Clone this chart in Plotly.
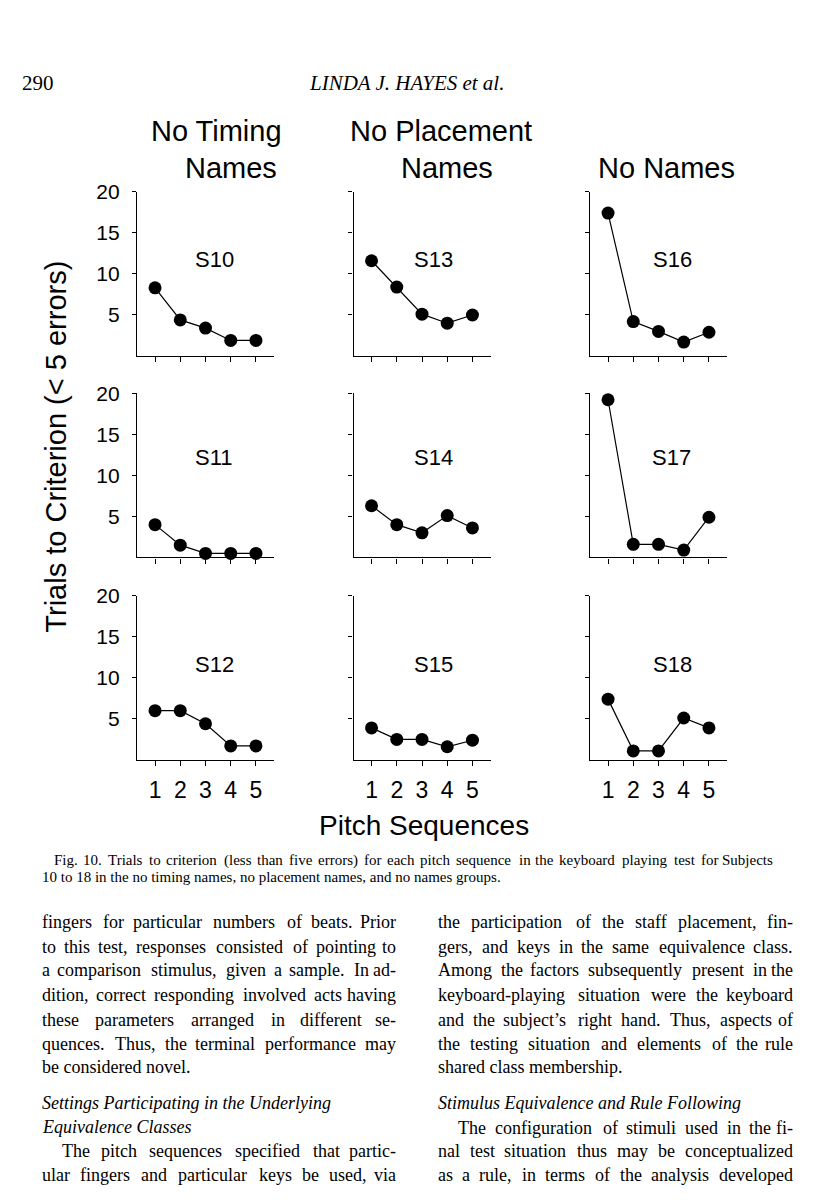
import plotly.graph_objects as go

# ---------------- data ----------------
sequences = [1, 2, 3, 4, 5]
tick_labels = ["1", "2", "3", "4", "5"]
y_ticks = [5, 10, 15, 20]
subjects = ["S10", "S11", "S12", "S13", "S14", "S15", "S16", "S17", "S18"]

s10 = [8.3, 4.4, 3.4, 1.9, 1.9]
s11 = [4.0, 1.5, 0.5, 0.5, 0.5]
s12 = [6.0, 6.0, 4.4, 1.7, 1.7]
s13 = [11.6, 8.4, 5.1, 4.0, 5.0]
s14 = [6.3, 4.0, 3.0, 5.1, 3.6]
s15 = [3.9, 2.5, 2.5, 1.6, 2.4]
s16 = [17.4, 4.2, 3.0, 1.7, 2.9]
s17 = [19.2, 1.6, 1.6, 0.9, 4.9]
s18 = [7.4, 1.1, 1.1, 5.1, 3.9]
series = [s10, s11, s12, s13, s14, s15, s16, s17, s18]

# ---------------- page layout (page pixels; the html body adds an 8px margin) ----------------
PAGE_W, PAGE_H = 816, 1200
OFF = 8
W, H = PAGE_W - 2 * OFF, PAGE_H - 2 * OFF
col_px = [(137, 274), (353.5, 490.5), (590, 727)]
row_px = [(181.5, 347.5), (385, 551), (589.5, 755.5)]
label_pos = [(214, 249.5), (214, 449.5), (215, 659.5),
             (433, 249.5), (433, 449.5), (433, 659.5),
             (672, 249.5), (671, 449.5), (672, 659.5)]

def PX(x):
    return (x - OFF) / W

def PY(y):
    return 1 - (y - OFF) / H

SANS = "Liberation Sans, Arial, Helvetica, sans-serif"
SERIF = "Liberation Serif, Times New Roman, serif"

fig = go.Figure()
layout = dict(
    width=W, height=H, margin=dict(l=0, r=0, t=0, b=0),
    paper_bgcolor="white", plot_bgcolor="white", showlegend=False,
)

for i in range(9):
    c, r = i // 3, i % 3
    n = i + 1
    xa = "x" if n == 1 else f"x{n}"
    ya = "y" if n == 1 else f"y{n}"
    fig.add_trace(go.Scatter(
        x=sequences, y=series[i], xaxis=xa, yaxis=ya,
        mode="lines+markers",
        line=dict(color="black", width=1.2),
        marker=dict(color="black", size=13),
        cliponaxis=False, hoverinfo="skip",
    ))
    x0, x1 = col_px[c]
    y0, y1 = row_px[r]
    layout["xaxis" if n == 1 else f"xaxis{n}"] = dict(
        domain=[PX(x0), PX(x1)], anchor=ya, range=[0.285, 5.715],
        showline=True, linecolor="black", linewidth=1.3,
        ticks="outside", ticklen=5, tickwidth=1, tickcolor="black",
        tickvals=sequences, ticktext=tick_labels,
        showticklabels=(r == 2), ticklabelstandoff=4,
        tickfont=dict(family=SANS, size=23, color="black"),
        showgrid=False, zeroline=False, fixedrange=True,
    )
    layout["yaxis" if n == 1 else f"yaxis{n}"] = dict(
        domain=[PY(y1), PY(y0)], anchor=xa, range=[0, 20],
        showline=True, linecolor="black", linewidth=1.3,
        ticks="outside", ticklen=4, tickwidth=1, tickcolor="black",
        tickvals=y_ticks, ticktext=[str(v) for v in y_ticks],
        showticklabels=(c == 0), ticklabelstandoff=8,
        tickfont=dict(family=SANS, size=21, color="black"),
        showgrid=False, zeroline=False, fixedrange=True,
    )

fig.update_layout(**layout)

ann = []

def add(text, x, y, size, family=SANS, xanchor="center", yanchor="middle", angle=0):
    ann.append(dict(text=text, x=PX(x), y=PY(y), xref="paper", yref="paper",
                    showarrow=False, xanchor=xanchor, yanchor=yanchor,
                    textangle=angle, font=dict(family=family, size=size, color="black")))

# subject labels
for i, s in enumerate(subjects):
    add(s, label_pos[i][0], label_pos[i][1], 22)

# group titles
add("No Timing", 216, 120, 29)
add("Names", 231, 158, 29)
add("No Placement", 441, 120, 29)
add("Names", 447, 158, 29)
add("No Names", 666, 158, 29)

# axis titles
add("Trials to Criterion (&lt; 5 errors)", 56, 439, 29, angle=-90)
add("Pitch Sequences", 424, 822, 28)

# ---------------- page text ----------------
TW = {' ': 250, ',': 250, '.': 250, '-': 333, '’': 333, "'": 333, '(': 333, ')': 333,
      ':': 278, ';': 278,
      'a': 444, 'b': 500, 'c': 444, 'd': 500, 'e': 444, 'f': 333, 'g': 500, 'h': 500,
      'i': 278, 'j': 278, 'k': 500, 'l': 278, 'm': 778, 'n': 500, 'o': 500, 'p': 500,
      'q': 500, 'r': 333, 's': 389, 't': 278, 'u': 500, 'v': 500, 'w': 722, 'x': 500,
      'y': 500, 'z': 444,
      'A': 722, 'B': 667, 'C': 667, 'D': 722, 'E': 611, 'F': 556, 'G': 722, 'H': 722,
      'I': 333, 'J': 389, 'K': 722, 'L': 611, 'M': 889, 'N': 722, 'O': 722, 'P': 556,
      'Q': 722, 'R': 667, 'S': 556, 'T': 611, 'U': 722, 'V': 722, 'W': 944, 'X': 722,
      'Y': 722, 'Z': 611}

def tw(s, size, k):
    return k * sum(TW.get(ch, 500) for ch in s) * size / 1000.0

def line(text, xl, xr, y, size, justify=True, italic=False, k=1.04):
    if italic:
        add("<i>" + text + "</i>", xl, y, size, family=SERIF, xanchor="left")
        return
    words = text.split()
    if not justify or len(words) < 2:
        add(text, xl, y, size, family=SERIF, xanchor="left")
        return
    widths = [tw(w, size, k) for w in words]
    gap = (xr - xl - sum(widths)) / (len(words) - 1)
    x = xl
    for j, w in enumerate(words):
        if j == len(words) - 1:
            add(w, xr, y, size, family=SERIF, xanchor="right")
        else:
            add(w, x, y, size, family=SERIF, xanchor="left")
        x += widths[j] + gap

# header
add("290", 20, 72, 21, family=SERIF, xanchor="left")
add("<i>LINDA J. HAYES et al.</i>", 406, 72, 21, family=SERIF)

# caption
line("Fig. 10.  Trials to criterion (less than five errors) for each pitch sequence in the keyboard playing test for Subjects",
     52, 775, 857, 15, k=1.055)
line("10 to 18 in the no timing names, no placement names, and no names groups.", 40, 775, 874, 15, justify=False)

BS = 18
LX0, LX1 = 40, 398
RX0, RX1 = 436, 795
left_lines = [
    ("fingers for particular numbers of beats. Prior", 919, True, False, 0),
    ("to this test, responses consisted of pointing to", 944, True, False, 0),
    ("a comparison stimulus, given a sample. In ad-", 968, True, False, 0),
    ("dition, correct responding involved acts having", 993, True, False, 0),
    ("these parameters arranged in different se-", 1018, True, False, 0),
    ("quences. Thus, the terminal performance may", 1042, True, False, 0),
    ("be considered novel.", 1066, False, False, 0),
    ("Settings Participating in the Underlying", 1102, False, True, 0),
    ("Equivalence Classes", 1126, False, True, 0),
    ("The pitch sequences specified that partic-", 1151, True, False, 20),
    ("ular fingers and particular keys be used, via", 1175, True, False, 0),
]
right_lines = [
    ("the participation of the staff placement, fin-", 919, True, False, 0),
    ("gers, and keys in the same equivalence class.", 944, True, False, 0),
    ("Among the factors subsequently present in the", 968, True, False, 0),
    ("keyboard-playing situation were the keyboard", 993, True, False, 0),
    ("and the subject’s right hand. Thus, aspects of", 1018, True, False, 0),
    ("the testing situation and elements of the rule", 1042, True, False, 0),
    ("shared class membership.", 1066, False, False, 0),
    ("Stimulus Equivalence and Rule Following", 1102, False, True, 0),
    ("The configuration of stimuli used in the fi-", 1127, True, False, 20),
    ("nal test situation thus may be conceptualized", 1151, True, False, 0),
    ("as a rule, in terms of the analysis developed", 1175, True, False, 0),
]
for t, y, j, it, ind in left_lines:
    line(t, LX0 + ind, LX1, y, BS, justify=j, italic=it)
for t, y, j, it, ind in right_lines:
    line(t, RX0 + ind, RX1, y, BS, justify=j, italic=it)

fig.update_layout(annotations=ann)
fig.write_html("out.html")
